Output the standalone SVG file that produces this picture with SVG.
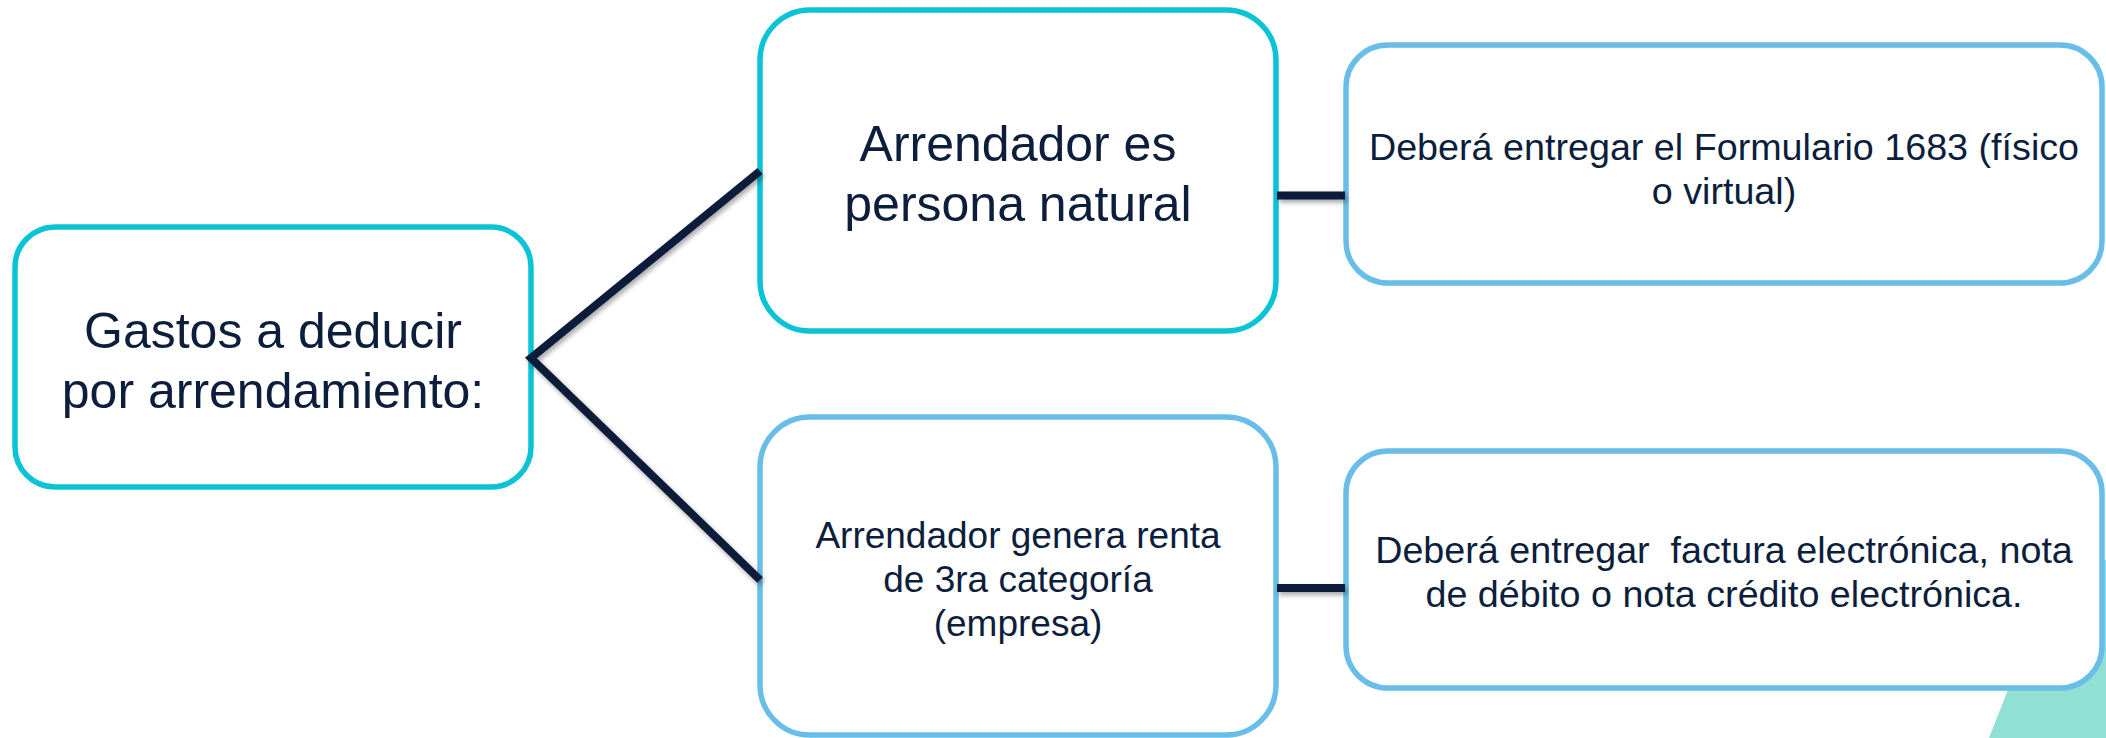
<svg xmlns="http://www.w3.org/2000/svg" width="2106" height="738" viewBox="0 0 2106 738">
  <defs>
    <filter id="sh" x="-20%" y="-20%" width="140%" height="140%">
      <feDropShadow dx="2" dy="3" stdDeviation="2.5" flood-color="#000" flood-opacity="0.35"/>
    </filter>
    <style>
      .box { fill: #ffffff; stroke-width: 5.5; }
      .cyan { stroke: #0BC3D6; }
      .blue { stroke: #68BEE8; }
      .t { font-family: "Liberation Sans", Arial, sans-serif; fill: #0C1E3C; text-anchor: middle; }
      .big { font-size: 50px; }
      .mid { font-size: 37px; }
      .sm { font-size: 37.7px; }
      .con { fill: none; stroke: #0A1D3A; stroke-width: 8; stroke-linejoin: miter; }
    </style>
  </defs>

  <polygon id="decor" points="1989,738 2106,738 2106,560 2059,560" fill="#90E0D4"/>

  <g id="node-root">
    <rect class="box cyan" x="15" y="227" width="516" height="260" rx="40" ry="40"/>
    <text class="t big" x="273" y="348">Gastos a deducir</text>
    <text class="t big" x="273" y="408">por arrendamiento:</text>
  </g>

  <g id="node-natural">
    <rect class="box cyan" x="760" y="10" width="516" height="321" rx="50" ry="50"/>
    <text class="t big" x="1018" y="161">Arrendador es</text>
    <text class="t big" x="1018" y="221">persona natural</text>
  </g>

  <g id="node-empresa">
    <rect class="box blue" x="760" y="417" width="516" height="318" rx="50" ry="50"/>
    <text class="t mid" x="1018" y="548">Arrendador genera renta</text>
    <text class="t mid" x="1018" y="592">de 3ra categoría</text>
    <text class="t mid" x="1018" y="636">(empresa)</text>
  </g>

  <g id="node-formulario">
    <rect class="box blue" x="1346" y="45" width="756" height="238" rx="42" ry="42"/>
    <text class="t sm" x="1724" y="160">Deberá entregar el Formulario 1683 (físico</text>
    <text class="t sm" x="1724" y="204">o virtual)</text>
  </g>

  <g id="node-factura">
    <rect class="box blue" x="1346" y="451" width="756" height="237" rx="42" ry="42"/>
    <text class="t sm" x="1724" y="563" xml:space="preserve">Deberá entregar  factura electrónica, nota</text>
    <text class="t sm" x="1724" y="607">de débito o nota crédito electrónica.</text>
  </g>

  <g id="connectors" filter="url(#sh)">
    <path class="con" d="M760,171 L531,358 L760,580"/>
    <path class="con" d="M1277,195.5 L1345,195.5"/>
    <path class="con" d="M1277,588 L1345,588"/>
  </g>
</svg>
